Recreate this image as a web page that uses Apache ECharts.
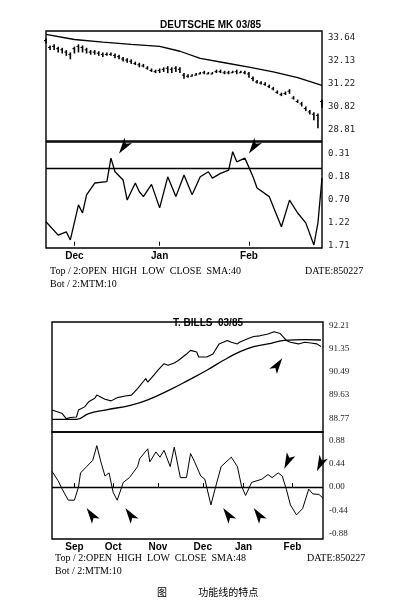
<!DOCTYPE html>
<html>
<head>
<meta charset="utf-8">
<script src="https://cdn.jsdelivr.net/npm/echarts@6/dist/echarts.min.js"></script>
<style>html,body{margin:0;padding:0;background:#fff}#main{width:411px;height:603px}</style>
</head>
<body>
<div id="main"></div>
<script>
// ---- DEUTSCHE MK (values in chart units) ----
var dmDays = 69;
var dmMonths = { 7: 'Dec', 28: 'Jan', 50: 'Feb' };
// [day, low, high]
var dmBars = [
  [0,4.25,4.45],[1,3.95,4.15],[2,3.95,4.2],[3,3.85,4.1],[4,3.8,4.05],[5,3.7,3.95],[6,3.55,3.85],
  [7,3.8,4.1],[8,3.85,4.2],[9,3.85,4.15],[10,3.8,4.05],[11,3.75,3.95],[12,3.75,3.95],[13,3.7,3.9],
  [14,3.65,3.85],[15,3.7,3.85],[16,3.7,3.85],[17,3.6,3.8],[18,3.55,3.75],[19,3.45,3.65],[20,3.4,3.6],
  [21,3.35,3.55],[22,3.3,3.45],[23,3.2,3.4],[24,3.2,3.35],[25,3.1,3.25],[26,3.0,3.15],[27,2.95,3.1],
  [28,2.95,3.15],[29,3.0,3.2],[30,2.95,3.25],[31,2.95,3.2],[32,3.0,3.25],[33,2.95,3.2],[34,2.7,2.95],
  [35,2.75,2.9],[36,2.8,2.9],[37,2.85,2.95],[38,2.9,3.0],[39,2.9,3.05],[40,2.9,3.0],[41,2.9,3.0],
  [42,2.95,3.1],[43,2.95,3.1],[44,2.9,3.05],[45,2.9,3.05],[46,2.95,3.05],[47,2.9,3.1],[48,2.95,3.05],
  [49,2.9,3.05],[50,2.75,3.0],[51,2.6,2.8],[52,2.5,2.65],[53,2.45,2.6],[54,2.4,2.55],[55,2.3,2.45],
  [56,2.2,2.35],[57,2.05,2.2],[58,1.95,2.1],[59,2.0,2.15],[60,2.05,2.25],[61,1.8,1.95],[62,1.65,1.8],
  [63,1.5,1.7],[64,1.3,1.5],[65,1.15,1.35],[66,0.9,1.25],[67,0.55,1.2],[68,1.45,1.8]
];
var dmSma = [[0,4.63],[7,4.41],[14,4.3],[21,4.2],[28,4.11],[33,3.9],[38,3.59],[44,3.4],[50,3.21],[56,3.0],[62,2.75],[68,2.42]];
var dmMtm = [[0,1.04],[3,0.46],[5,0.60],[6,0.25],[8,1.77],[9,1.42],[10,2.21],[12,2.72],[15,2.78],[16,3.80],
  [17,3.21],[19,2.85],[20,1.98],[22,2.72],[23,2.34],[24,2.13],[26,2.66],[28,1.64],[30,2.99],[32,2.13],
  [34,3.07],[36,2.21],[38,2.99],[40,3.21],[41,2.93],[43,3.14],[45,3.28],[46,4.08],[47,3.64],[49,3.80],
  [51,2.99],[52,2.50],[55,2.13],[56,1.69],[58,0.82],[60,1.98],[62,1.42],[64,0.99],[66,0.03],[67,0.99],[68,2.93]];
var dmPriceLabels = { 1: '28.81', 3: '30.82', 5: '31.22', 7: '32.13', 9: '33.64' }; // keyed by 2*value
var dmMtmLabels = ['1.71', '1.22', '0.70', '0.18', '0.31'];
var dmMtmLine = 3.37;
var dmArrows = [[17.5, 4.0], [49.5, 4.0]];

// ---- T. BILLS ----
var tbDays = 134;
var tbMonths = { 11: 'Sep', 30: 'Oct', 52: 'Nov', 74: 'Dec', 94: 'Jan', 118: 'Feb' };
var tbClose = [[0,0.35],[3,0.27],[5,0.20],[7,-0.02],[9,0.03],[12,0.05],[13,0.35],[16,0.49],[18,0.71],[21,0.86],
  [22,1.0],[26,0.82],[29,0.75],[32,0.89],[36,0.96],[39,1.0],[42,1.28],[46,1.72],[47,1.56],[50,1.87],
  [52,2.08],[55,2.36],[57,2.29],[60,2.39],[62,2.50],[66,2.78],[68,2.94],[71,2.87],[72,2.65],[76,2.65],
  [79,2.78],[82,3.22],[86,3.37],[88,3.29],[91,3.22],[92,3.29],[96,3.44],[99,3.54],[102,3.57],[106,3.65],
  [109,3.75],[112,3.67],[115,3.37],[117,3.29],[121,3.22],[124,3.29],[127,3.26],[130,3.22],[132,3.11]];
var tbSma = [[0,-0.05],[12,-0.05],[18,0.20],[26,0.35],[39,0.57],[47,0.79],[59,1.28],[67,1.65],[76,2.08],
  [86,2.60],[96,3.02],[106,3.22],[114,3.37],[124,3.41],[132,3.39]];
var tbMtm = [[0,0.30],[3,0.12],[5,-0.04],[8,-0.25],[11,-0.25],[13,0.0],[14,0.27],[17,0.39],[20,0.51],[22,0.79],
  [24,0.48],[26,0.21],[28,0.27],[30,-0.10],[32,-0.25],[35,0.09],[38,0.18],[42,0.39],[43,0.54],[47,0.73],
  [48,0.48],[51,0.67],[53,0.57],[55,0.70],[58,0.39],[60,0.76],[63,0.18],[66,0.18],[68,0.64],[70,0.48],
  [73,0.21],[75,0.15],[78,-0.34],[80,-0.04],[83,0.39],[88,0.57],[91,0.39],[93,0.02],[95,-0.16],[98,0.09],
  [103,0.15],[106,0.24],[108,0.18],[111,0.27],[113,0.21],[115,-0.04],[117,-0.34],[120,-0.53],[123,-0.41],
  [126,-0.04],[128,-0.13],[131,-0.14],[133,-0.21]];
var tbPriceLabels = ['88.77', '89.63', '90.49', '91.35', '92.21'];
var tbArrowsUp = [[17, -0.4], [36, -0.4], [84, -0.4], [99, -0.4]];
var tbArrowsDown = [[114, 0.35], [130, 0.3]];
var tbPriceArrow = [[113, 2.6]];

var serif = 'Liberation Serif';
var narrow = 'Liberation Sans Narrow, Liberation Sans, sans-serif';
function cats(n, months) {
  var a = [];
  for (var i = 0; i < n; i++) a.push(months[i] || '');
  return a;
}
function xAx(grid, n, months, showLabels) {
  return {
    type: 'category', gridIndex: grid, data: cats(n, months), boundaryGap: false,
    axisLine: { show: false },
    axisTick: { show: showLabels, length: 4, inside: true, lineStyle: { color: '#000' },
      interval: function (i, v) { return v !== ''; } },
    axisLabel: { show: showLabels, interval: function (i, v) { return v !== ''; },
      color: '#000', fontFamily: narrow, fontWeight: 'bold', fontSize: 10, margin: 3 }
  };
}
function yAx(grid, min, max, interval, fmt, font) {
  return {
    type: 'value', gridIndex: grid, position: 'right', min: min, max: max, interval: interval,
    splitLine: { show: false }, axisLine: { show: false }, axisTick: { show: false },
    axisLabel: { color: '#222', fontFamily: font, fontSize: 9, margin: 6, formatter: fmt }
  };
}
function arrow(coord, rot) {
  return { coord: coord, symbol: 'arrow', symbolSize: [7, 16], symbolRotate: rot, itemStyle: { color: '#000' }, label: { show: false } };
}
function text(s, left, top, font, size, weight) {
  return { text: s, left: left, top: top, textStyle: { fontFamily: font, fontSize: size, fontWeight: weight || 'normal', color: '#000' } };
}
var lineBase = { type: 'line', symbol: 'none', lineStyle: { color: '#000', width: 1.3 }, silent: true };

var barSeries = {
  type: 'custom', xAxisIndex: 0, yAxisIndex: 0, data: dmBars,
  renderItem: function (params, api) {
    var lo = api.coord([api.value(0), api.value(1)]);
    var hi = api.coord([api.value(0), api.value(2)]);
    return { type: 'group', children: [
      { type: 'line', shape: { x1: lo[0], y1: lo[1], x2: hi[0], y2: hi[1] }, style: { stroke: '#000', lineWidth: 1.6 } },
      { type: 'line', shape: { x1: hi[0] - 2, y1: hi[1] + 2, x2: hi[0], y2: hi[1] + 2 }, style: { stroke: '#000', lineWidth: 1 } }
    ] };
  }
};

var myChart = echarts.init(document.getElementById('main'));
myChart.setOption({
  animation: false,
  title: [
    text('DEUTSCHE MK 03/85', 155, 15, narrow, 10, 'bold'),
    text('Top / 2:OPEN  HIGH  LOW  CLOSE  SMA:40', 45, 261, serif, 10),
    text('Bot / 2:MTM:10', 45, 274, serif, 10),
    text('DATE:850227', 300, 261, serif, 10),
    text('T. BILLS  03/85', 168, 313, narrow, 10, 'bold'),
    text('Top / 2:OPEN  HIGH  LOW  CLOSE  SMA:48', 50, 548, serif, 10),
    text('Bot / 2:MTM:10', 50, 561, serif, 10),
    text('DATE:850227', 302, 548, serif, 10),
    text('图              功能线的特点', 152, 582, 'Noto Sans CJK SC', 10)
  ],
  grid: [
    { left: 46, right: 89, top: 31, height: 110, show: true, borderColor: '#000', borderWidth: 1.4 },
    { left: 46, right: 89, top: 142, height: 106, show: true, borderColor: '#000', borderWidth: 1.4 },
    { left: 52, right: 88, top: 322, height: 110, show: true, borderColor: '#000', borderWidth: 1.4 },
    { left: 52, right: 88, top: 432, height: 107, show: true, borderColor: '#000', borderWidth: 1.4 }
  ],
  xAxis: [
    xAx(0, dmDays, dmMonths, false),
    xAx(1, dmDays, dmMonths, true),
    xAx(2, tbDays, tbMonths, false),
    xAx(3, tbDays, tbMonths, true)
  ],
  yAxis: [
    yAx(0, 0, 4.78, 0.5, function (v) { return dmPriceLabels[Math.round(v * 2)] || ''; }, 'DejaVu Sans Mono'),
    yAx(1, -0.1, 4.5, 0.1, function (v) {
      var r = Math.round(v); return Math.abs(v - r) < 1e-6 && dmMtmLabels[r] ? dmMtmLabels[r] : ''; }, 'DejaVu Sans Mono'),
    yAx(2, -0.6, 4.17, 0.2, function (v) {
      var r = Math.round(v); return Math.abs(v - r) < 1e-6 && r >= 0 ? tbPriceLabels[r] : ''; }, serif),
    yAx(3, -0.99, 1.05, 0.11, function (v) {
      var r = Math.round(v / 0.44); return Math.abs(v - r * 0.44) < 1e-6 && Math.abs(r) <= 2 ? (r * 0.44).toFixed(2) : ''; }, serif)
  ],
  series: [
    barSeries,
    Object.assign({}, lineBase, { xAxisIndex: 0, yAxisIndex: 0, data: dmSma }),
    Object.assign({}, lineBase, { xAxisIndex: 1, yAxisIndex: 1, data: dmMtm,
      markLine: { symbol: 'none', silent: true, label: { show: false }, lineStyle: { color: '#000', type: 'solid', width: 1.3 }, data: [{ yAxis: dmMtmLine }] },
      markPoint: { data: dmArrows.map(function (c) { return arrow(c, 145); }) } }),
    Object.assign({}, lineBase, { xAxisIndex: 2, yAxisIndex: 2, data: tbClose, lineStyle: { color: '#000', width: 1.1 },
      markPoint: { data: tbPriceArrow.map(function (c) { return arrow(c, -35); }) } }),
    Object.assign({}, lineBase, { xAxisIndex: 2, yAxisIndex: 2, data: tbSma, smooth: true }),
    Object.assign({}, lineBase, { xAxisIndex: 3, yAxisIndex: 3, data: tbMtm, lineStyle: { color: '#000', width: 1 },
      markLine: { symbol: 'none', silent: true, label: { show: false }, lineStyle: { color: '#000', type: 'solid', width: 1.3 }, data: [{ yAxis: 0 }] },
      markPoint: { data: tbArrowsUp.map(function (c) { return arrow(c, 35); })
        .concat(tbArrowsDown.map(function (c) { return arrow(c, 155); })) } })
  ]
});
</script>
</body>
</html>
